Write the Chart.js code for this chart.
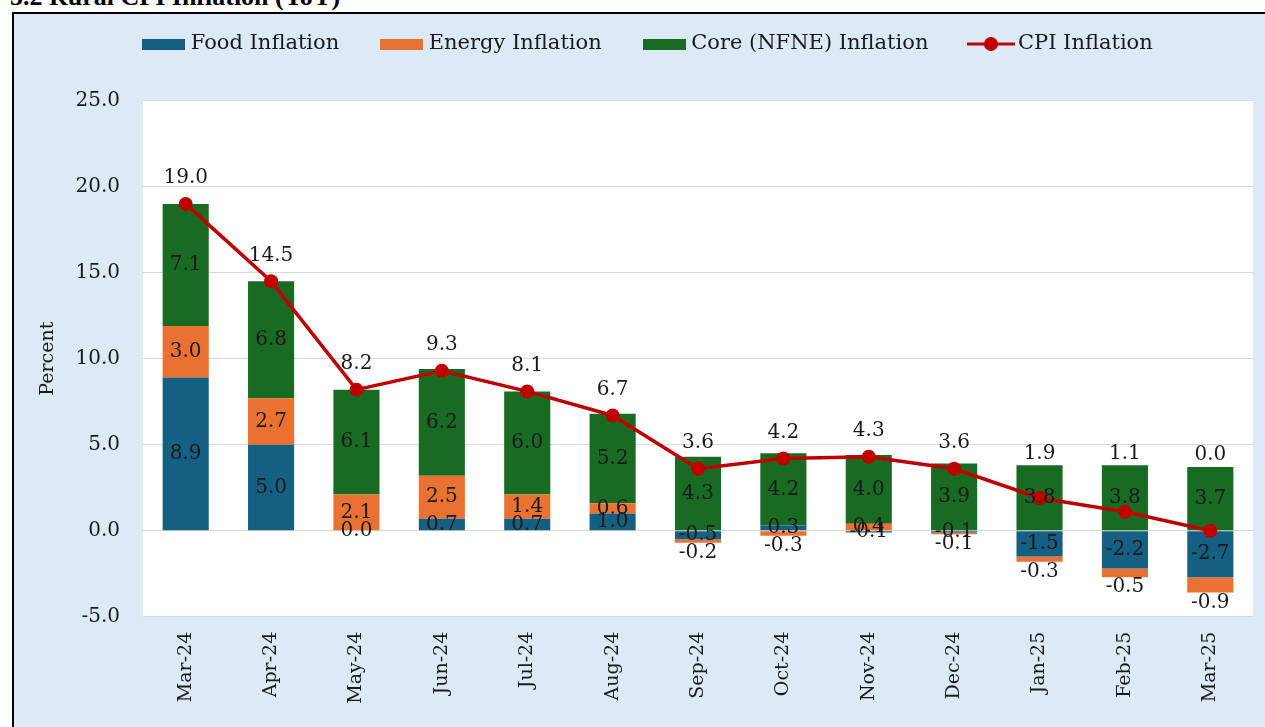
<!DOCTYPE html>
<html>
<head>
<meta charset="utf-8">
<script src="https://cdn.jsdelivr.net/npm/chart.js@4.4.1/dist/chart.umd.min.js"></script>
<style>
    body { margin: 0; overflow: hidden; background: #ffffff; }
    #heading {
        position: absolute; left: 10px; top: -18px; line-height: 26px;
        font: bold 26px "Liberation Serif", serif; color: #000; white-space: nowrap;
    }
    #box {
        position: absolute; left: 12px; top: 12px; width: 1276px; height: 760px;
        border: 2px solid #000; background: #dce9f6;
    }
    #box canvas { display: block; }
</style>
</head>
<body>
<div id="heading">5.2 Rural CPI Inflation (YoY)</div>
<div id="box"><canvas id="ruralChart" width="1276" height="760"></canvas></div>
<script>
document.addEventListener("DOMContentLoaded", function () {
    // data
    const months = ["Mar-24", "Apr-24", "May-24", "Jun-24", "Jul-24", "Aug-24", "Sep-24",
        "Oct-24", "Nov-24", "Dec-24", "Jan-25", "Feb-25", "Mar-25"];
    const foodVals = [8.9, 5.0, 0.0, 0.7, 0.7, 1.0, -0.5, 0.3, -0.1, -0.1, -1.5, -2.2, -2.7];
    const energyVals = [3.0, 2.7, 2.1, 2.5, 1.4, 0.6, -0.2, -0.3, 0.4, -0.1, -0.3, -0.5, -0.9];
    const coreVals = [7.1, 6.8, 6.1, 6.2, 6.0, 5.2, 4.3, 4.2, 4.0, 3.9, 3.8, 3.8, 3.7];
    const cpiVals = [19.0, 14.5, 8.2, 9.3, 8.1, 6.7, 3.6, 4.2, 4.3, 3.6, 1.9, 1.1, 0.0];
    const yMin = -5, yMax = 25, yStep = 5;

    const FOOD = "#156082", ENERGY = "#e97132", CORE = "#196b24", CPI = "#c00000";
    const FONT = "'DejaVu Serif', serif";
    const TEXT = "#1a1a1a";

    // legend icons (Excel style: flat box, line with a dot)
    function rectIcon(color) {
        const c = document.createElement("canvas");
        c.width = 43; c.height = 11;
        const g = c.getContext("2d");
        g.fillStyle = color;
        g.fillRect(0, 0, 43, 11);
        return c;
    }
    function lineIcon(color) {
        const c = document.createElement("canvas");
        c.width = 48; c.height = 16;
        const g = c.getContext("2d");
        g.strokeStyle = color; g.fillStyle = color; g.lineWidth = 3;
        g.beginPath(); g.moveTo(0, 8); g.lineTo(48, 8); g.stroke();
        g.beginPath(); g.arc(24, 8, 7, 0, Math.PI * 2); g.fill();
        return c;
    }
    const legendIcons = [rectIcon(FOOD), rectIcon(ENERGY), rectIcon(CORE), lineIcon(CPI)];

    // white plot area
    const plotBg = {
        id: "plotBg",
        beforeDraw(chart) {
            const a = chart.chartArea;
            chart.ctx.save();
            chart.ctx.fillStyle = "#ffffff";
            chart.ctx.fillRect(a.left, a.top, a.right - a.left, a.bottom - a.top);
            chart.ctx.restore();
        }
    };

    // legend sits higher than Chart.js would put it
    const legendPlace = {
        id: "legendPlace",
        beforeLayout(chart) {
            const lg = chart.legend;
            if (lg && !lg._fixed) {
                const fit = lg.fit;
                lg.fit = function () { fit.call(this); this.height = 86.7; };
                lg._fixed = true;
            }
        },
        afterLayout(chart) {
            const lg = chart.legend;
            const pad = lg.options.labels.padding;
            lg.top = 30 - pad - 10.5;
            lg.bottom = lg.top + lg.height;
            lg.left = 636 - lg.width / 2;
            lg.right = lg.left + lg.width;
        }
    };

    // value labels
    const valueLabels = {
        id: "valueLabels",
        afterDatasetsDraw(chart) {
            const ctx = chart.ctx;
            const food = chart.getDatasetMeta(0).data;
            const energy = chart.getDatasetMeta(1).data;
            const core = chart.getDatasetMeta(2).data;
            const cpi = chart.getDatasetMeta(3).data;
            ctx.save();
            ctx.font = "20px " + FONT;
            ctx.fillStyle = TEXT;
            ctx.textAlign = "center";
            ctx.textBaseline = "middle";
            food.forEach((bar, i) => {
                ctx.fillText(foodVals[i].toFixed(1), bar.x, (bar.y + bar.base) / 2);
            });
            energy.forEach((bar, i) => {
                const v = energyVals[i];
                const y = v < 0 ? bar.y + 10 : (bar.y + bar.base) / 2;
                ctx.fillText(v.toFixed(1), bar.x, y);
            });
            core.forEach((bar, i) => {
                ctx.fillText(coreVals[i].toFixed(1), bar.x, (bar.y + bar.base) / 2);
            });
            cpi.forEach((pt, i) => {
                const y = Math.min(pt.y - 26, core[i].y - 12);
                ctx.fillText(cpiVals[i].toFixed(1), pt.x, y);
            });
            ctx.restore();
        }
    };

    function barSet(label, data, color) {
        return {
            type: "bar", label: label, data: data, backgroundColor: color,
            stack: "parts", order: 1, barPercentage: 0.54, categoryPercentage: 1
        };
    }

    new Chart(document.getElementById("ruralChart"), {
        data: {
            labels: months,
            datasets: [
                barSet("Food Inflation", foodVals, FOOD),
                barSet("Energy Inflation", energyVals, ENERGY),
                barSet("Core (NFNE) Inflation", coreVals, CORE),
                {
                    type: "line", label: "CPI Inflation", data: cpiVals,
                    borderColor: CPI, backgroundColor: CPI, borderWidth: 3.5,
                    pointRadius: 7, pointHoverRadius: 7, pointBorderWidth: 0,
                    pointBackgroundColor: CPI, tension: 0, stack: "cpi", order: 0
                }
            ]
        },
        options: {
            responsive: false,
            animation: false,
            layout: { padding: { left: 20, right: 37, top: 0, bottom: 62.3 } },
            plugins: {
                tooltip: { enabled: false },
                legend: {
                    position: "top",
                    labels: {
                        usePointStyle: true,
                        pointStyleWidth: 33,
                        padding: 46,
                        color: TEXT,
                        font: { family: FONT, size: 21 },
                        sort: (a, b) => a.datasetIndex - b.datasetIndex,
                        generateLabels(chart) {
                            const items = Chart.defaults.plugins.legend.labels.generateLabels(chart);
                            items.forEach(it => { it.pointStyle = legendIcons[it.datasetIndex]; });
                            return items;
                        }
                    }
                }
            },
            scales: {
                x: {
                    stacked: true,
                    grid: { display: false, drawTicks: false },
                    border: { display: false },
                    ticks: {
                        minRotation: 90, maxRotation: 90, padding: 15,
                        color: TEXT, font: { family: FONT, size: 19 }
                    },
                    afterFit(axis) { axis.height = 95; }
                },
                y: {
                    stacked: true,
                    min: yMin, max: yMax,
                    grid: { color: "#d9d9d9", lineWidth: 1, drawTicks: false },
                    border: { display: false },
                    ticks: {
                        stepSize: yStep, padding: 23, color: TEXT,
                        font: { family: FONT, size: 20 },
                        callback: v => v.toFixed(1)
                    },
                    title: {
                        display: true, text: "Percent", color: TEXT,
                        font: { family: FONT, size: 19 },
                        padding: { top: 3, bottom: 0 }
                    },
                    afterFit(axis) { axis.width = 109; }
                }
            }
        },
        plugins: [plotBg, legendPlace, valueLabels]
    });
});
</script>
</body>
</html>
